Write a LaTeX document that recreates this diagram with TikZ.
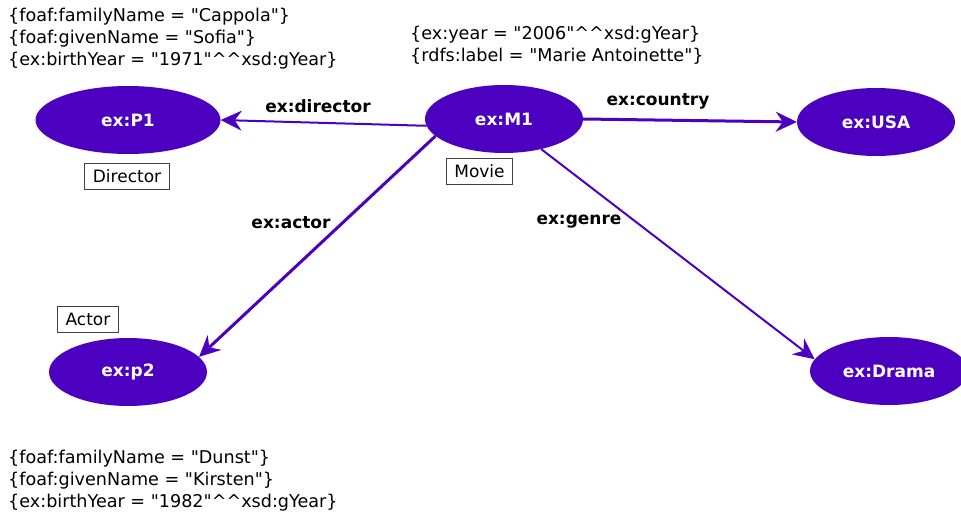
\documentclass[tikz,border=0pt]{standalone}
\usepackage{fontspec}
\setmainfont{DejaVu Sans}
\usetikzlibrary{arrows.meta,shapes.geometric}
\definecolor{rdfpurple}{RGB}{76,0,192}
\newcommand{\qq}{\textquotedbl}
\tikzset{
  res/.style={ellipse, fill=rdfpurple, draw=none, minimum width=158pt, minimum height=68pt, inner sep=0pt, text=white, font=\fontsize{17}{19}\selectfont\bfseries},
  rel/.style={draw=rdfpurple, line width=2pt, -{Stealth[length=21pt,width=20pt,inset=7pt]}},
  relthick/.style={rel, line width=3pt},
  elabel/.style={font=\fontsize{17}{19}\selectfont\bfseries, text=black, inner sep=0pt},
  typebox/.style={draw=black!75, line width=0.8pt, font=\fontsize{17}{19}\selectfont, inner xsep=8pt, inner ysep=0pt, minimum height=26pt},
  lit/.style={font=\fontsize{17.6}{22}\selectfont, align=left, anchor=north west, inner sep=0pt},
}
\begin{document}
\begin{tikzpicture}[x=1pt,y=-1pt]
\useasboundingbox (0,0) rectangle (961,513);
\node[res, minimum width=185pt] (P1) at (128,120) {ex:P1};
\node[res] (M1) at (504,119) {ex:M1};
\node[res] (USA) at (876,122) {ex:USA};
\node[res] (p2) at (128,372) {ex:p2};
\node[res] (Drama) at (889,371) {ex:Drama};
\draw[rel] (M1.185) -- (P1.east);
\draw[relthick] (M1.east) -- (USA.west);
\draw[relthick] (M1.194) -- (p2.12);
\draw[rel] (M1.-39) -- (Drama.171);
\node[elabel] (ldir) at (318,106) {ex:director};
\node[elabel] (lcountry) at (658,101) {ex:country};
\node[elabel] (lactor) at (291,223) {ex:actor};
\node[elabel] (lgenre) at (579,222) {ex:genre};
\node[typebox] (tdir) at (127,176) {Director};
\node[typebox] (tmovie) at (479.5,171.5) {Movie};
\node[typebox] (tactor) at (88,319) {Actor};
\node[lit] (litP1) at (8,8) {\{foaf:familyName = \qq Cappola\qq\}\\\{foaf:givenName = \qq Sofia\qq\}\\\{ex:birthYear = \qq 1971\qq\textasciicircum\textasciicircum xsd:gYear\}};
\node[lit] (litM1) at (410,26) {\{ex:year = \qq 2006\qq\textasciicircum\textasciicircum xsd:gYear\}\\\{rdfs:label = \qq Marie Antoinette\qq\}};
\node[lit] (litp2) at (8,450) {\{foaf:familyName = \qq Dunst\qq\}\\\{foaf:givenName = \qq Kirsten\qq\}\\\{ex:birthYear = \qq 1982\qq\textasciicircum\textasciicircum xsd:gYear\}};
\end{tikzpicture}
\end{document}
